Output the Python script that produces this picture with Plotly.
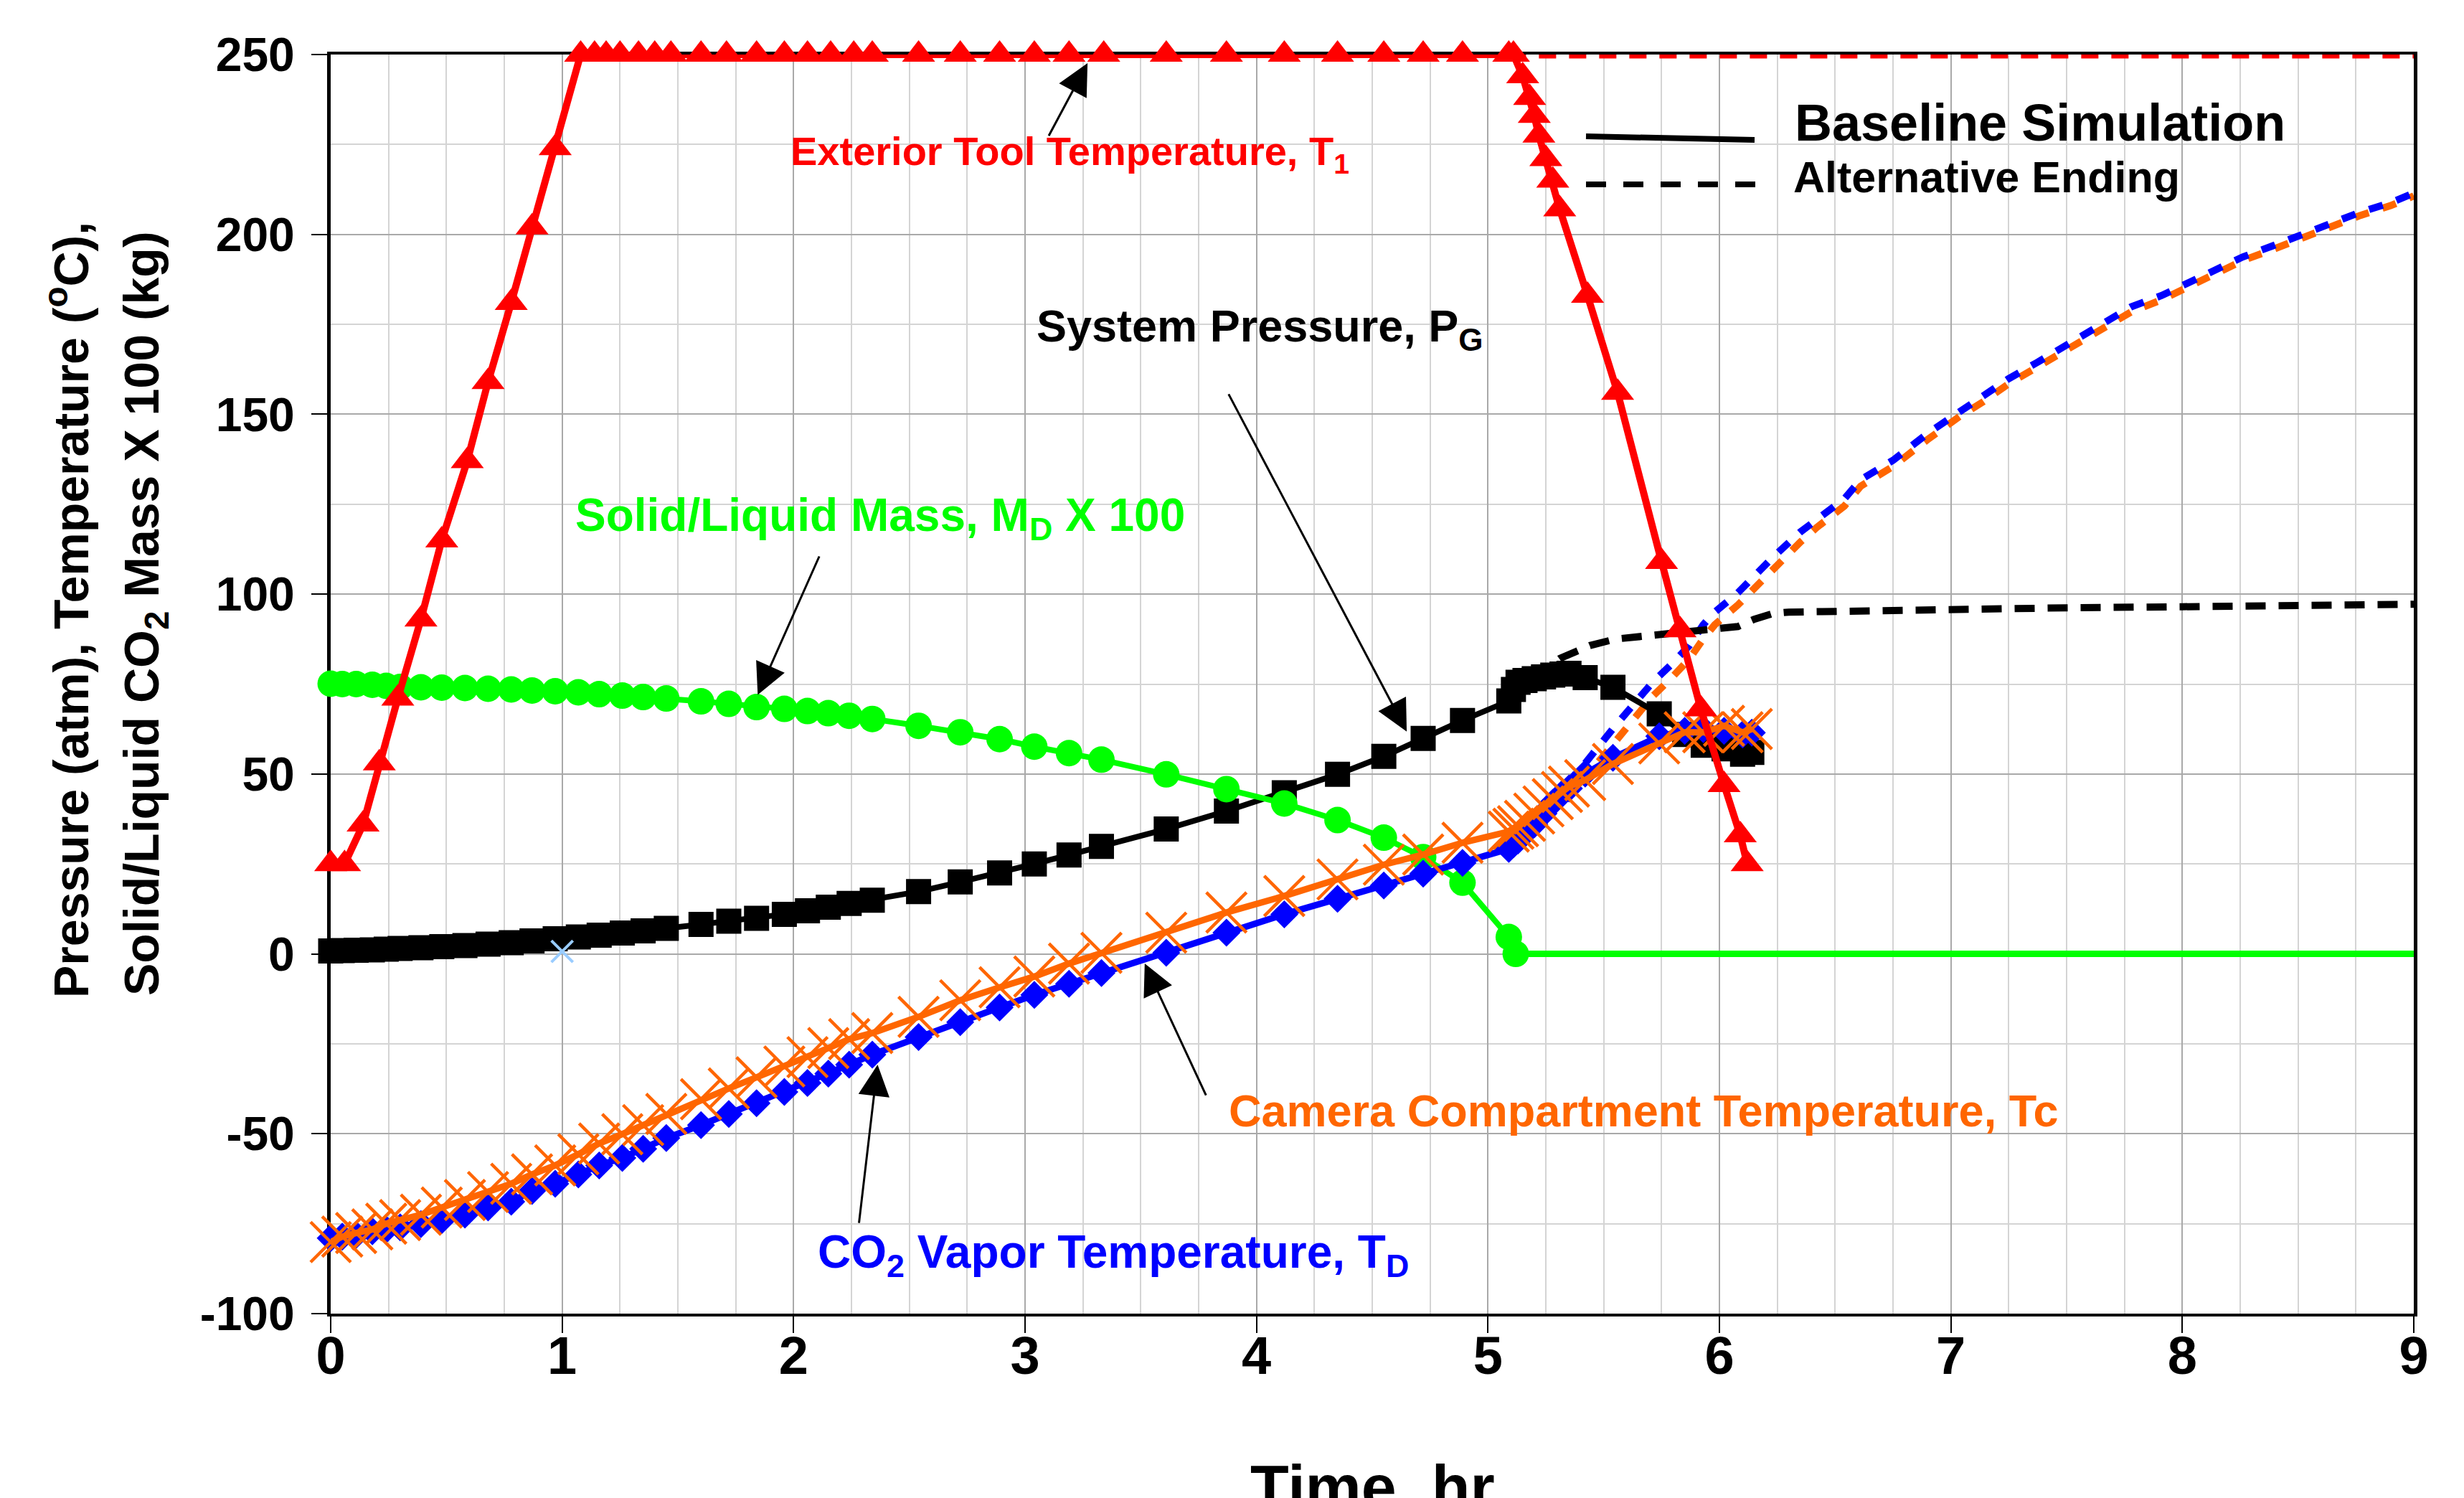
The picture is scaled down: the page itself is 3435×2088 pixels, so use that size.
import plotly.graph_objects as go

# ---------------- data ----------------
# common sampling times for the main heating phase (hr)
t_main = [0, 0.05, 0.11, 0.18, 0.24, 0.30, 0.39, 0.48, 0.58, 0.68, 0.78, 0.87, 0.97,
          1.07, 1.16, 1.26, 1.35, 1.45, 1.60, 1.72, 1.84, 1.96, 2.06, 2.15, 2.24, 2.34,
          2.54, 2.72, 2.89, 3.04, 3.19, 3.33, 3.61, 3.87, 4.12, 4.35, 4.55, 4.72, 4.89, 5.09]

# System pressure P_G (atm)
pg_main = [0.8, 0.9, 1.0, 1.1, 1.3, 1.5, 1.7, 2.0, 2.3, 2.7, 3.1, 3.6, 4.2,
           4.7, 5.2, 5.8, 6.4, 7.1, 8.2, 9.1, 9.9, 11.0, 12.0, 13.0, 14.0, 14.9,
           17.3, 20.0, 22.5, 25.0, 27.5, 29.9, 34.7, 39.7, 44.8, 49.9, 54.9, 59.9, 64.9, 70.3]
# CO2 vapor temperature T_D (C)
td_main = [-79.0, -78.6, -78.1, -77.1, -76.6, -76.0, -75.1, -74.0, -72.5, -70.5, -68.9, -65.9, -63.9,
           -61.3, -58.8, -56.7, -54.2, -51.2, -47.6, -44.5, -41.5, -38.4, -35.9, -33.3, -30.8, -28.0,
           -23.1, -19.0, -14.9, -11.4, -8.3, -5.3, 0.3, 5.9, 11.0, 15.3, 19.0, 22.3, 25.3, 29.2]
# Camera compartment temperature Tc (C)
tc_main = [-80.1, -78.6, -77.6, -76.6, -75.0, -74.0, -72.5, -70.5, -68.4, -66.2, -63.9, -61.3, -58.8,
           -55.7, -52.7, -50.1, -47.6, -44.5, -40.4, -37.4, -34.3, -31.3, -28.7, -26.2, -23.7, -22.0,
           -17.5, -12.9, -9.3, -6.3, -2.7, 0.3, 5.9, 11.5, 16.1, 20.7, 24.8, 27.6, 30.9, 34.0]
# Solid/liquid mass M_D x 100 (kg)
md_main = [75.1, 75.0, 75.0, 74.8, 74.5, 74.2, 74.1, 74.0, 73.9, 73.7, 73.5, 73.2, 73.0,
           72.7, 72.2, 71.8, 71.4, 71.0, 70.2, 69.5, 68.6, 68.1, 67.5, 66.9, 66.2, 65.3,
           63.4, 61.6, 59.7, 57.6, 55.8, 54.0, 49.9, 45.8, 41.8, 37.2, 32.3, 26.9, 19.8, 4.7]
t_md_end = [5.12]
md_end = [0.0]

# baseline ending (cool-down) phase
t_end = [5.11, 5.13, 5.16, 5.20, 5.24, 5.28, 5.32, 5.35, 5.42, 5.54, 5.74, 5.85, 5.93, 6.02, 6.10, 6.14]
pg_end = [73.5, 75.5, 76.0, 76.5, 77.0, 77.5, 77.8, 78.0, 76.8, 74.1, 66.7, 61.0, 58.0, 57.0, 55.5, 56.0]
td_end = [30.5, 31.5, 33.5, 36.0, 39.0, 42.0, 44.5, 46.0, 50.1, 54.5, 60.5, 62.0, 62.5, 62.0, 61.0, 61.5]
tc_end = [34.8, 35.5, 37.0, 39.0, 41.0, 43.0, 45.0, 46.5, 48.3, 52.8, 58.5, 61.6, 61.6, 63.4, 61.6, 62.5]

# Exterior tool temperature T1 (C)
t_t1 = [0, 0.06, 0.14, 0.21, 0.29, 0.39, 0.48, 0.59, 0.68, 0.78, 0.87, 0.97,
        1.08, 1.14, 1.19, 1.25, 1.33, 1.40, 1.47, 1.60, 1.71, 1.84, 1.96, 2.06, 2.16, 2.26,
        2.34, 2.54, 2.72, 2.89, 3.04, 3.19, 3.34, 3.61, 3.87, 4.12, 4.35, 4.55, 4.72, 4.89,
        5.09, 5.11, 5.15, 5.18, 5.20, 5.22, 5.25, 5.28, 5.31, 5.43, 5.56, 5.75, 5.83, 5.92,
        6.02, 6.09, 6.12]
t1_vals = [25, 25, 36, 53, 71, 93, 115, 137, 159, 181, 202, 224,
           250, 250, 250, 250, 250, 250, 250, 250, 250, 250, 250, 250, 250, 250,
           250, 250, 250, 250, 250, 250, 250, 250, 250, 250, 250, 250, 250, 250,
           250, 250, 244, 238, 233, 227.5, 221, 215, 207, 183, 156, 109, 90, 68,
           47, 33, 25]

# Alternative ending (dashed)
t_alt_t1 = [5.09, 9.0]
alt_t1 = [250, 250]
t_alt_pg = [5.09, 5.20, 5.31, 5.44, 5.55, 5.75, 5.93, 6.08, 6.15, 6.23, 6.30, 6.64, 7.0, 7.5, 8.0, 8.5, 9.0]
alt_pg = [70.3, 77.0, 82.1, 85.7, 87.5, 88.8, 90.1, 91.0, 93.0, 94.6, 95.0, 95.2, 95.8, 96.2, 96.5, 96.8, 97.2]
t_alt_temp = [5.09, 5.20, 5.31, 5.42, 5.55, 5.65, 5.71, 5.79, 5.87, 5.93, 5.98, 6.08, 6.23, 6.35, 6.42,
              6.54, 6.61, 6.75, 6.90, 7.04, 7.14, 7.25, 7.37, 7.50, 7.65, 7.78, 7.91, 8.05, 8.15, 8.26,
              8.39, 8.53, 8.66, 8.77, 8.90, 9.00]
alt_td = [29.2, 37.0, 45.0, 53.0, 63.4, 70.5, 75.4, 80.3, 85.7, 91.5, 95.0, 100.4, 110.2, 117.3, 120.9,
          126.5, 131.8, 137.2, 144.7, 151.0, 155.0, 159.9, 164.3, 169.2, 175.4, 179.9, 183.0, 187.4, 190.5, 193.7,
          196.8, 200.4, 203.5, 206.2, 208.8, 211.5]
alt_tc = [34.0, 38.0, 43.0, 49.0, 59.0, 66.5, 71.5, 76.5, 82.0, 87.5, 91.5, 97.0, 107.0, 114.5, 118.5,
          124.5, 130.0, 135.5, 143.0, 149.5, 153.5, 158.5, 163.0, 168.0, 174.0, 178.5, 181.8, 186.3, 189.5, 192.7,
          195.8, 199.4, 202.5, 205.3, 208.0, 210.7]
t_alt_md = [5.12, 9.0]
alt_md = [0.0, 0.0]

# stray marker
t_stray = [1.0]
stray_vals = [0.7]

# axis ticks
x_tickvals = [0, 1, 2, 3, 4, 5, 6, 7, 8, 9]
x_ticktext = ["0", "1", "2", "3", "4", "5", "6", "7", "8", "9"]
y_tickvals = [-100, -50, 0, 50, 100, 150, 200, 250]
y_ticktext = ["-100", "-50", "0", "50", "100", "150", "200", "250"]

# ---------------- styling ----------------
W, H = 3435, 2088
PL, PR, PT, PB = 453, 3357, 68, 1823   # plot-area pixel bounds
FONT = "Arial, Liberation Sans, Helvetica, sans-serif"

RED = "#FF0000"
GREEN = "#00FF00"
BLUE = "#0000FF"
ORANGE = "#FF6600"
BLACK = "#000000"


def fx(p):
    return (p - PL) / (PR - PL)


def fy(p):
    return (PB - p) / (PB - PT)


fig = go.Figure()

# alternative endings (drawn first, underneath)
fig.add_trace(go.Scatter(x=t_alt_md, y=alt_md, mode="lines",
                         line=dict(color=GREEN, width=9), cliponaxis=False))
fig.add_trace(go.Scatter(x=t_alt_temp, y=alt_tc, mode="lines",
                         line=dict(color=ORANGE, width=10, dash="20px,20px"), cliponaxis=False))
fig.add_trace(go.Scatter(x=t_alt_temp, y=alt_td, mode="lines",
                         line=dict(color=BLUE, width=10, dash="20px,20px"), cliponaxis=False))
fig.add_trace(go.Scatter(x=t_alt_pg, y=alt_pg, mode="lines",
                         line=dict(color=BLACK, width=10, dash="28px,18px"), cliponaxis=False))
fig.add_trace(go.Scatter(x=t_alt_t1, y=alt_t1, mode="lines",
                         line=dict(color=RED, width=11, dash="24px,18px"), cliponaxis=False))

# baseline simulation
fig.add_trace(go.Scatter(x=t_main + t_end, y=pg_main + pg_end, mode="lines+markers",
                         line=dict(color=BLACK, width=8),
                         marker=dict(symbol="square", size=35, color=BLACK), cliponaxis=False))
fig.add_trace(go.Scatter(x=t_main + t_md_end, y=md_main + md_end, mode="lines+markers",
                         line=dict(color=GREEN, width=8),
                         marker=dict(symbol="circle", size=37, color=GREEN), cliponaxis=False))
fig.add_trace(go.Scatter(x=t_main + t_end, y=td_main + td_end, mode="lines+markers",
                         line=dict(color=BLUE, width=9),
                         marker=dict(symbol="diamond", size=30, color=BLUE), cliponaxis=False))
fig.add_trace(go.Scatter(x=t_main + t_end, y=tc_main + tc_end, mode="lines+markers",
                         line=dict(color=ORANGE, width=9),
                         marker=dict(symbol="x-thin", size=56, color=ORANGE,
                                     line=dict(color=ORANGE, width=4.5)), cliponaxis=False))
fig.add_trace(go.Scatter(x=t_stray, y=stray_vals, mode="markers",
                         marker=dict(symbol="x-thin", size=30, color="#99CCFF",
                                     line=dict(color="#99CCFF", width=4)), cliponaxis=False))
fig.add_trace(go.Scatter(x=t_t1, y=t1_vals, mode="lines+markers",
                         line=dict(color=RED, width=10),
                         marker=dict(symbol="triangle-up", size=40, color=RED), cliponaxis=False))

# ---------------- axes ----------------
fig.update_xaxes(range=[0, 9], tickmode="array", tickvals=x_tickvals, ticktext=x_ticktext,
                 tickfont=dict(family=FONT, size=74, color=BLACK, weight="bold"),
                 showline=True, linecolor=BLACK, linewidth=4, mirror=True,
                 ticks="outside", ticklen=23, tickwidth=2, tickcolor=BLACK,
                 ticklabelstandoff=-32,
                 showgrid=True, gridcolor="#A9A9A9", gridwidth=2,
                 minor=dict(tick0=0, dtick=0.25, showgrid=True, gridcolor="#D4D4D4", gridwidth=1.5),
                 zeroline=False, layer="below traces")
fig.update_yaxes(range=[-100, 250], tickmode="array", tickvals=y_tickvals, ticktext=y_ticktext,
                 tickfont=dict(family=FONT, size=66, color=BLACK, weight="bold"),
                 showline=True, linecolor=BLACK, linewidth=5, mirror=True,
                 ticks="outside", ticklen=22, tickwidth=2, tickcolor=BLACK,
                 ticklabelstandoff=10,
                 showgrid=True, gridcolor="#A9A9A9", gridwidth=2,
                 minor=dict(tick0=0, dtick=25, showgrid=True, gridcolor="#D4D4D4", gridwidth=1.5),
                 zeroline=False, layer="below traces")

# ---------------- white label boxes (cover the grid) ----------------
boxes = [
    (960, 163, 2010, 270),     # exterior tool temp
    (1403, 405, 2089, 505),    # system pressure
    (750, 668, 1700, 767),     # solid/liquid mass
    (1690, 1498, 2900, 1570),  # camera compartment
    (1104, 1699, 2377, 1821),  # CO2 vapor
    (2471, 117, 3226, 288),    # legend
]
shapes = []
for x0, y0, x1, y1 in boxes:
    shapes.append(dict(type="rect", xref="paper", yref="paper",
                       x0=fx(x0), x1=fx(x1), y0=fy(y1), y1=fy(y0),
                       fillcolor="white", line=dict(width=0), layer="between"))
# legend sample lines
shapes.append(dict(type="line", xref="paper", yref="paper",
                   x0=fx(2203), y0=fy(182), x1=fx(2438), y1=fy(187),
                   line=dict(color=BLACK, width=8)))
shapes.append(dict(type="line", xref="paper", yref="paper",
                   x0=fx(2203), y0=fy(249), x1=fx(2441), y1=fy(249),
                   line=dict(color=BLACK, width=8, dash="28px,24px")))

annotations = []


def label(text, cx, cy, size, color, xanchor="center", angle=0):
    annotations.append(dict(text=text, xref="paper", yref="paper", x=fx(cx), y=fy(cy),
                            xanchor=xanchor, yanchor="middle", showarrow=False, textangle=angle,
                            font=dict(family=FONT, size=size, color=color, weight="bold")))


label("Exterior Tool Temperature, T<sub>1</sub>", 1483, 207, 56, RED)
label("System Pressure, P<sub>G</sub>", 1748, 450, 63, BLACK)
label("Solid/Liquid Mass, M<sub>D</sub> X 100", 1219, 714, 64, GREEN)
label("Camera Compartment Temperature, Tc", 2283, 1540, 63, ORANGE)
label("CO<sub>2</sub> Vapor Temperature, T<sub>D</sub>", 1544, 1741, 64, BLUE)
label("Baseline Simulation", 2492, 163, 72, BLACK, xanchor="left")
label("Alternative Ending", 2490, 239, 61, BLACK, xanchor="left")
label("Time, hr", 1905, 2064, 88, BLACK)
label("Pressure (atm), Temperature (<sup>o</sup>C),", 86, 842, 68, BLACK, angle=-90)
label("Solid/Liquid CO<sub>2</sub> Mass X 100 (kg)", 194, 847, 68, BLACK, angle=-90)


def arrow(tail, head):
    # tail/head given in data units (hr, value)
    annotations.append(dict(text="", x=head[0], y=head[1], ax=tail[0], ay=tail[1],
                            xref="x", yref="y", axref="x", ayref="y",
                            showarrow=True, arrowhead=2, arrowsize=2.9, arrowwidth=3,
                            arrowcolor=BLACK, standoff=0, startstandoff=0))


arrow((3.10, 227.1), (3.27, 247.6))     # exterior tool temperature
arrow((3.877, 155.9), (4.649, 61.8))    # system pressure
arrow((2.113, 110.8), (1.845, 72.0))    # solid/liquid mass
arrow((3.784, -39.6), (3.517, -2.7))    # camera compartment
arrow((2.282, -75.1), (2.363, -30.8))   # CO2 vapor

fig.update_layout(width=W, height=H,
                  margin=dict(l=PL, r=W - PR, t=PT, b=H - PB, pad=0),
                  plot_bgcolor="white", paper_bgcolor="white",
                  showlegend=False, font=dict(family=FONT, color=BLACK),
                  shapes=shapes, annotations=annotations)

fig.write_html("out.html")
